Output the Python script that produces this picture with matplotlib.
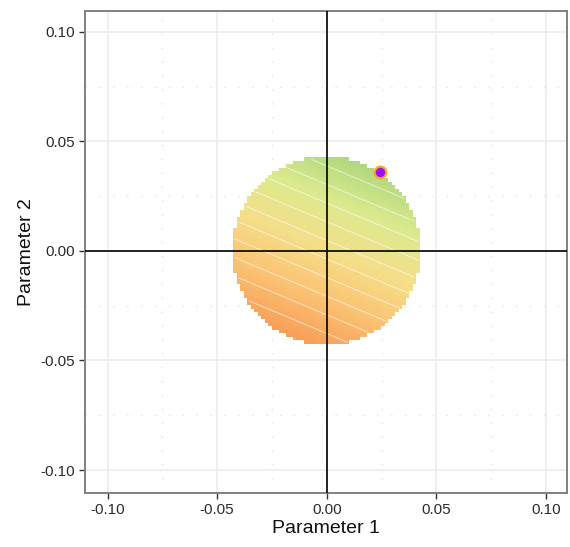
import numpy as np
import matplotlib
matplotlib.use("Agg")
import matplotlib.pyplot as plt
from matplotlib.colors import LinearSegmentedColormap

plt.rcParams["font.family"] = ["Liberation Sans", "DejaVu Sans"]

# Feasible region: a disc sampled on a regular grid
region_radius = 0.043
grid_step = 0.0016
# Objective surface: linear trend across the parameter plane
slope_p1 = 0.42
slope_p2 = 1.0
contour_step = 0.0085

# Optimum marker
best_p1 = [0.0245]
best_p2 = [0.0358]

tick_values = [-0.10, -0.05, 0.00, 0.05, 0.10]
tick_labels = ["-0.10", "-0.05", "0.00", "0.05", "0.10"]
axis_limits = (-0.1105, 0.1095)

surface_colors = ["#f8a05a", "#fbc474", "#f5df8a", "#dcea8e", "#afd77e"]
cmap = LinearSegmentedColormap.from_list("surface", surface_colors)

n = int(round(2 * 0.045 / grid_step)) + 1
centers = np.linspace(-0.045, 0.045, n)
P1, P2 = np.meshgrid(centers, centers)
Z = slope_p1 * P1 + slope_p2 * P2
inside = P1 ** 2 + P2 ** 2 <= region_radius ** 2
Zm = np.ma.masked_where(~inside, Z)

fig = plt.figure(figsize=(5.70, 5.47), dpi=100)
ax = fig.add_axes([0.1461, 0.0987, 0.8504, 0.8812])

half = grid_step / 2
ax.imshow(Zm, origin="lower", cmap=cmap,
          extent=(centers[0] - half, centers[-1] + half,
                  centers[0] - half, centers[-1] + half),
          interpolation="nearest", vmin=-0.045, vmax=0.047, zorder=2)

levels = np.arange(-0.1, 0.1, contour_step) + contour_step / 3
ax.contour(P1, P2, Zm, levels=levels, colors="white", linewidths=0.7,
           alpha=0.6, negative_linestyles="solid", zorder=3)

# Grid lines
for v in tick_values:
    ax.axvline(v, color="#ebebeb", lw=1.1, zorder=0)
    ax.axhline(v, color="#ebebeb", lw=1.1, zorder=0)
for v in [-0.075, -0.025, 0.025, 0.075]:
    ax.axvline(v, color="#e3e3e3", lw=1.0, ls=(0, (1, 9)), zorder=0)
    ax.axhline(v, color="#e3e3e3", lw=1.0, ls=(0, (1, 9)), zorder=0)

ax.axvline(0, color="black", lw=1.2, zorder=4)
ax.axhline(0, color="black", lw=1.2, zorder=4)

ax.scatter(best_p1, best_p2, s=70, c="#9a12f0", edgecolors="#f5a623",
           linewidths=1.6, zorder=5)

ax.set_xlim(axis_limits)
ax.set_ylim(axis_limits)
ax.set_xticks(tick_values, tick_labels)
ax.set_yticks(tick_values, tick_labels)
ax.tick_params(axis="both", length=4, width=1.0, color="#333333",
               labelsize=11, labelcolor="#2b2b2b", pad=3)
for s in ax.spines.values():
    s.set_color("#808080")
    s.set_linewidth(1.4)

ax.set_xlabel("Parameter 1", fontsize=14, color="#111111", labelpad=2)
ax.set_ylabel("Parameter 2", fontsize=14, color="#111111", labelpad=4)

fig.savefig("out.png", dpi=100)
